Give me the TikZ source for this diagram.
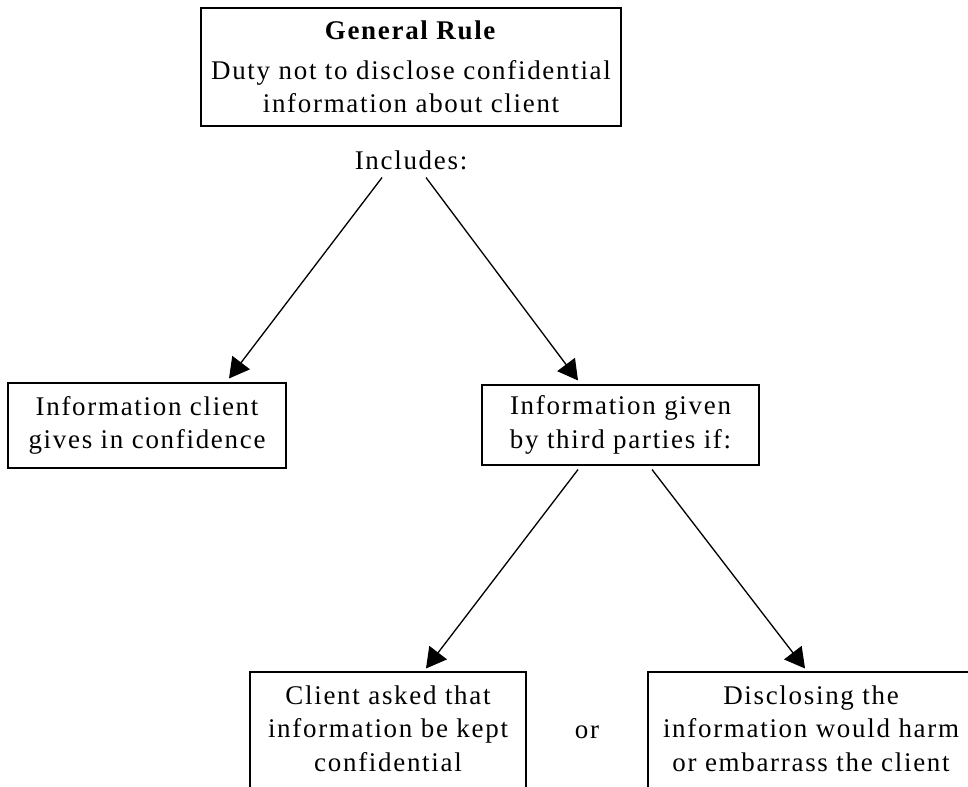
\documentclass[tikz,border=0pt]{standalone}
\usepackage{fontspec}
\setmainfont{Liberation Serif}[LetterSpace=6.3]
\usetikzlibrary{arrows.meta,calc}

\begin{document}
\begin{tikzpicture}[scale=0.4,every text node part/.style={align=center}]
\tikzstyle{every node}+=[inner sep=0pt,font=\fontsize{30.7}{38.1}\selectfont]
\tikzset{box/.style={draw=black,line width=1.2pt},
  arr/.style={black,line width=1.5pt,-{Triangle[length=0.8cm,width=0.88cm]}}}
\useasboundingbox (0,0) rectangle (96.8,-78.7);
\clip (0,0) rectangle (96.8,-78.7);
\node [box,minimum width=16.8cm,minimum height=4.72cm] (rule) at (41.1,-6.7)
  {\textbf{General Rule}\\[0.26cm] Duty not to disclose confidential\\ information about client};
\node [anchor=base] (incl) at (41.1,-17.0) {Includes:};
\node [box,minimum width=11.12cm,minimum height=3.4cm] (conf) at (14.7,-42.55)
  {Information client\\ gives in confidence};
\node [box,minimum width=11.08cm,minimum height=3.2cm] (third) at (62.05,-42.5)
  {Information given\\ by third parties if:};
\node [box,anchor=base,minimum width=11.04cm,text height=3.96cm,text depth=2cm] (asked) at (38.8,-77.1)
  {Client asked that\\ information be kept\\ confidential};
\node [box,anchor=base,minimum width=13.04cm,text height=3.96cm,text depth=2cm] (harm) at (81.1,-77.1)
  {Disclosing the\\ information would harm\\ or embarrass the client};
\node [anchor=base] (or) at (58.7,-73.87) {or};
% arrows
\draw [arr] ($(incl.south)+(-2.9,-0.7)$) -- ($(conf.north)+(8.2,0.4)$);
\draw [arr] ($(incl.south)+(1.5,-0.7)$) -- ($(third.north)+(-4.25,0.4)$);
\draw [arr] ($(third.south)+(-4.25,-0.4)$) -- ($(asked.north)+(3.8,0.3)$);
\draw [arr] ($(third.south)+(3.15,-0.4)$) -- ($(harm.north)+(-0.6,0.3)$);
\end{tikzpicture}
\end{document}
